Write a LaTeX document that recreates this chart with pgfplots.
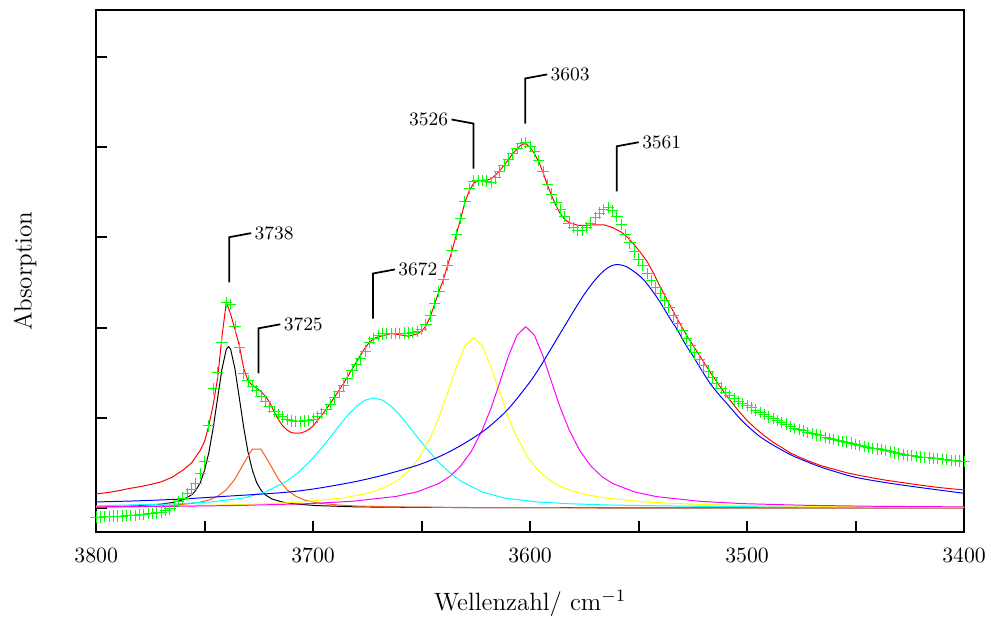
\documentclass[border=0pt]{standalone}
\usepackage{pgfplots}
\pgfplotsset{compat=1.18}
\definecolor{orng}{RGB}{255,90,20}
\definecolor{grn}{RGB}{0,255,0}
\definecolor{cyn}{RGB}{0,255,255}
\definecolor{ylw}{RGB}{255,255,0}
\definecolor{mgt}{RGB}{255,0,255}
\definecolor{blu}{RGB}{0,0,255}
\definecolor{rd}{RGB}{255,0,0}

\begin{document}
\begin{tikzpicture}
\begin{axis}[
    scale only axis,
    width=399pt, height=240pt,
    x dir=reverse,
    xmin=3400, xmax=3800,
    ymin=-0.267, ymax=5.522,
    xtick={3400,3450,...,3800},
    xticklabels={3400,,3500,,3600,,3700,,3800},
    ytick={0,1,...,5},
    yticklabels={},
    tick pos=left,
    tick align=inside,
    major tick length=5pt,
    tick style={line width=0.9pt, black},
    axis line style={line width=0.9pt},
    xticklabel style={yshift=-3.7pt},
    xlabel={Wellenzahl/ cm$^{-1}$},
    ylabel={Absorption},
    xlabel style={at={(axis description cs:0.5,-0.151)}, anchor=base, font=\fontsize{11.5}{14}\selectfont},
    ylabel style={at={(axis description cs:-0.0744,0.5)}, anchor=base, font=\fontsize{11.5}{14}\selectfont},
    clip=false,
    every axis plot/.append style={line width=0.45pt},
]
% measured spectrum
\addplot[only marks, mark=+, mark size=2.6pt, color=grn, mark options={solid, draw=grn, line width=0.45pt}]
coordinates {
(3800,-0.10)(3798,-0.10)(3796,-0.095)(3794,-0.095)(3792,-0.09)(3790,-0.09)(3788,-0.09)(3786,-0.085)
(3784,-0.08)(3782,-0.08)(3780,-0.075)(3778,-0.07)(3776,-0.065)(3774,-0.06)(3772,-0.055)(3770,-0.045)
(3768,-0.03)(3766,-0.01)(3764,0.03)(3762,0.07)(3760,0.11)(3758,0.16)(3756,0.20)(3754,0.27)
(3752,0.38)(3750,0.51)(3748,0.91)(3746,1.32)(3744,1.50)(3742,1.84)(3740,2.28)(3738,2.26)
(3736,2.01)(3734,1.78)(3732,1.49)(3730,1.41)(3728,1.35)(3726,1.30)(3724,1.24)(3722,1.18)
(3720,1.12)(3718,1.07)(3716,1.04)(3714,1.01)(3712,0.98)(3710,0.965)(3708,0.96)(3706,0.96)
(3704,0.965)(3702,0.97)(3700,0.985)(3698,1.01)(3696,1.045)(3694,1.09)(3692,1.15)(3690,1.22)
(3688,1.29)(3686,1.36)(3684,1.44)(3682,1.52)(3680,1.59)(3678,1.66)(3676,1.74)(3674,1.84)
(3672,1.88)(3670,1.91)(3668,1.93)(3666,1.935)(3664,1.935)(3662,1.935)(3660,1.935)(3658,1.94)
(3656,1.94)(3654,1.945)(3652,1.955)(3650,1.98)(3648,2.03)(3646,2.13)(3644,2.27)(3642,2.40)
(3640,2.53)(3638,2.69)(3636,2.85)(3634,3.03)(3632,3.21)(3630,3.40)(3628,3.54)(3626,3.625)
(3624,3.635)(3622,3.635)(3620,3.625)(3618,3.61)(3616,3.66)(3614,3.73)(3612,3.80)(3610,3.86)
(3608,3.93)(3606,3.99)(3604,4.04)(3602,4.05)(3600,4.01)(3598,3.95)(3596,3.85)(3594,3.73)
(3592,3.59)(3590,3.48)(3588,3.39)(3586,3.31)(3584,3.23)(3582,3.16)(3580,3.11)(3578,3.08)
(3576,3.075)(3574,3.11)(3572,3.16)(3570,3.22)(3568,3.27)(3566,3.31)(3564,3.335)(3562,3.30)
(3560,3.23)(3558,3.14)(3556,3.03)(3554,2.94)(3552,2.84)(3550,2.76)(3548,2.69)(3546,2.60)
(3544,2.52)(3542,2.44)(3540,2.375)(3538,2.30)(3536,2.22)(3534,2.13)(3532,2.05)(3530,1.97)
(3528,1.88)(3526,1.80)(3524,1.72)(3522,1.65)(3520,1.58)(3518,1.51)(3516,1.45)(3514,1.385)
(3512,1.33)(3510,1.285)(3508,1.245)(3506,1.21)(3504,1.18)(3502,1.16)(3500,1.14)(3498,1.11)
(3496,1.085)(3494,1.06)(3492,1.035)(3490,1.01)(3488,0.99)(3486,0.97)(3484,0.95)(3482,0.93)
(3480,0.905)(3478,0.885)(3476,0.87)(3474,0.855)(3472,0.84)(3470,0.825)(3468,0.81)(3466,0.80)
(3464,0.785)(3462,0.77)(3460,0.76)(3458,0.75)(3456,0.74)(3454,0.73)(3452,0.72)(3450,0.705)
(3448,0.69)(3446,0.68)(3444,0.67)(3442,0.66)(3440,0.655)(3438,0.645)(3436,0.635)(3434,0.625)
(3432,0.61)(3430,0.60)(3428,0.595)(3426,0.585)(3424,0.58)(3422,0.57)(3420,0.565)(3418,0.56)
(3416,0.555)(3414,0.55)(3412,0.545)(3410,0.54)(3408,0.535)(3406,0.53)(3404,0.525)(3402,0.52)
(3400,0.515)
};
% component bands
\addplot[black] coordinates {
(3800,0.012)(3790,0.017)(3780,0.025)(3770,0.043)(3765,0.06)(3760,0.091)(3756,0.145)(3754,0.197)
(3752,0.28)(3750,0.42)(3748,0.62)(3746,0.895)(3744,1.22)(3742,1.54)(3740,1.76)(3739,1.79)
(3738,1.76)(3736,1.54)(3734,1.22)(3732,0.895)(3730,0.62)(3728,0.42)(3726,0.28)(3724,0.197)
(3722,0.145)(3719,0.10)(3714,0.065)(3709,0.046)(3699,0.027)(3680,0.012)(3650,0.006)(3600,0.003)
(3500,0.001)(3400,0.0)
};
\addplot[orng] coordinates {
(3800,0.009)(3784,0.014)(3772,0.022)(3764,0.032)(3756,0.05)(3752,0.065)(3748,0.089)(3744,0.13)
(3740,0.201)(3736,0.321)(3732,0.492)(3728,0.653)(3724,0.653)(3720,0.492)(3716,0.321)(3712,0.201)
(3708,0.13)(3704,0.089)(3700,0.065)(3696,0.05)(3688,0.032)(3680,0.022)(3668,0.014)(3652,0.009)
(3626,0.005)(3576,0.002)(3400,0.0)
};
\addplot[cyn] coordinates {
(3800,0.024)(3762,0.047)(3747,0.067)(3732,0.111)(3722,0.177)(3712,0.299)(3707,0.391)(3702,0.504)
(3697,0.638)(3692,0.788)(3688,0.911)(3684,1.03)(3680,1.128)(3676,1.196)(3672,1.22)(3668,1.196)
(3664,1.128)(3660,1.03)(3656,0.911)(3652,0.788)(3647,0.638)(3642,0.504)(3637,0.391)(3632,0.299)
(3622,0.177)(3612,0.111)(3597,0.067)(3582,0.047)(3562,0.032)(3522,0.018)(3472,0.010)(3400,0.006)
};
\addplot[ylw] coordinates {
(3800,0.014)(3756,0.025)(3726,0.043)(3706,0.065)(3686,0.112)(3676,0.157)(3671,0.192)(3666,0.24)
(3661,0.308)(3656,0.41)(3651,0.561)(3646,0.779)(3642,1.005)(3638,1.28)(3634,1.56)(3630,1.80)
(3626,1.89)(3622,1.80)(3618,1.56)(3614,1.28)(3610,1.005)(3606,0.779)(3601,0.561)(3596,0.41)
(3591,0.308)(3586,0.24)(3581,0.192)(3576,0.157)(3566,0.112)(3546,0.065)(3526,0.043)(3496,0.025)
(3452,0.014)(3400,0.009)
};
\addplot[mgt] coordinates {
(3800,0.013)(3762,0.019)(3732,0.029)(3702,0.048)(3682,0.074)(3662,0.127)(3652,0.179)(3642,0.272)
(3637,0.35)(3632,0.466)(3627,0.631)(3622,0.866)(3618,1.107)(3614,1.389)(3610,1.682)(3606,1.917)
(3602,2.01)(3598,1.917)(3594,1.682)(3590,1.389)(3586,1.107)(3582,0.866)(3577,0.631)(3572,0.466)
(3567,0.35)(3562,0.272)(3552,0.179)(3542,0.127)(3522,0.074)(3502,0.048)(3472,0.029)(3442,0.019)
(3400,0.012)
};
\addplot[blu, smooth] coordinates {
(3800,0.067)(3780,0.08)(3760,0.10)(3740,0.13)(3720,0.16)(3710,0.18)(3700,0.21)(3690,0.25)
(3680,0.295)(3670,0.35)(3660,0.415)(3650,0.49)(3640,0.59)(3630,0.72)(3620,0.88)(3610,1.10)
(3600,1.40)(3595,1.58)(3590,1.78)(3585,1.98)(3580,2.18)(3575,2.37)(3570,2.53)(3566,2.63)
(3563,2.68)(3560,2.70)(3556,2.68)(3552,2.62)(3548,2.54)(3544,2.42)(3540,2.28)
(3536,2.12)(3532,1.97)(3528,1.80)(3525,1.69)(3521,1.53)(3517,1.38)(3513,1.26)(3509,1.15)
(3502,0.96)(3494,0.79)(3486,0.67)(3479,0.58)(3470,0.49)(3463,0.43)(3450,0.34)(3433,0.27)
(3415,0.21)(3400,0.163)
};
% fitted sum
\addplot[rd] coordinates {
(3800,0.156)(3795,0.17)(3790,0.19)(3785,0.215)(3780,0.235)(3775,0.26)(3770,0.29)(3765,0.34)
(3760,0.42)(3756,0.50)(3752,0.64)(3750,0.74)(3748,0.92)(3746,1.15)(3744,1.44)(3742,1.90)
(3740,2.28)(3738,2.15)(3736,1.98)(3734,1.80)(3732,1.55)(3730,1.41)(3728,1.36)(3726,1.33)
(3724,1.29)(3722,1.24)(3720,1.17)(3718,1.07)(3716,0.98)(3714,0.91)(3712,0.865)(3710,0.835)
(3708,0.83)(3706,0.83)(3704,0.845)(3702,0.87)(3700,0.91)(3698,0.97)(3695,1.06)(3692,1.16)
(3689,1.27)(3686,1.38)(3683,1.50)(3680,1.62)(3677,1.74)(3674,1.84)(3671,1.89)(3668,1.91)
(3664,1.935)(3660,1.92)(3656,1.905)(3652,1.93)(3650,1.96)(3648,2.02)(3646,2.12)(3644,2.26)
(3642,2.40)(3640,2.53)(3638,2.69)(3636,2.85)(3634,3.03)(3632,3.21)(3630,3.39)(3628,3.52)
(3626,3.60)(3624,3.63)(3622,3.635)(3620,3.635)(3618,3.65)(3616,3.69)(3614,3.74)(3612,3.80)
(3610,3.86)(3608,3.93)(3606,3.98)(3604,4.03)(3602,4.04)(3600,4.00)(3598,3.93)(3596,3.84)
(3594,3.72)(3592,3.58)(3590,3.46)(3588,3.35)(3586,3.26)(3584,3.20)(3582,3.165)(3580,3.15)
(3578,3.135)(3574,3.135)(3570,3.14)(3566,3.14)(3562,3.11)(3558,3.06)(3555,3.00)(3552,2.92)
(3549,2.83)(3546,2.73)(3543,2.60)(3540,2.45)(3536,2.27)(3532,2.09)(3528,1.92)(3524,1.77)
(3520,1.62)(3516,1.47)(3512,1.33)(3508,1.20)(3504,1.08)(3500,0.97)(3496,0.88)(3492,0.80)
(3488,0.73)(3484,0.67)(3480,0.61)(3476,0.565)(3471,0.515)(3466,0.47)(3460,0.43)(3454,0.39)
(3448,0.36)(3442,0.333)(3436,0.308)(3430,0.287)(3425,0.27)(3420,0.253)(3415,0.237)(3410,0.223)
(3405,0.211)(3400,0.20)
};
% peak annotations
\begin{scope}[line width=0.8pt, every node/.style={inner sep=1.2pt, font=\fontsize{8.7}{10}\selectfont}]
\draw (axis cs:3738.6,2.503) -- (axis cs:3738.6,3.003) -- (axis cs:3728.5,3.048) node[anchor=west] {3738};
\draw (axis cs:3725.2,1.492) -- (axis cs:3725.2,1.992) -- (axis cs:3715.1,2.037) node[anchor=west] {3725};
\draw (axis cs:3672.4,2.100) -- (axis cs:3672.4,2.600) -- (axis cs:3662.3,2.645) node[anchor=west] {3672};
\draw (axis cs:3626.1,3.763) -- (axis cs:3626.1,4.263) -- (axis cs:3636.2,4.308) node[anchor=east] {3526};
\draw (axis cs:3602.2,4.263) -- (axis cs:3602.2,4.763) -- (axis cs:3592.1,4.808) node[anchor=west] {3603};
\draw (axis cs:3560.0,3.511) -- (axis cs:3560.0,4.011) -- (axis cs:3549.9,4.056) node[anchor=west] {3561};
\end{scope}
\coordinate (sw) at (axis description cs:0,0);
\coordinate (ne) at (axis description cs:1,1);
\end{axis}
\pgfresetboundingbox
\path ([xshift=-44.2pt,yshift=-40.5pt]sw) rectangle ([xshift=12.4pt,yshift=4.6pt]ne);
\end{tikzpicture}
\end{document}
